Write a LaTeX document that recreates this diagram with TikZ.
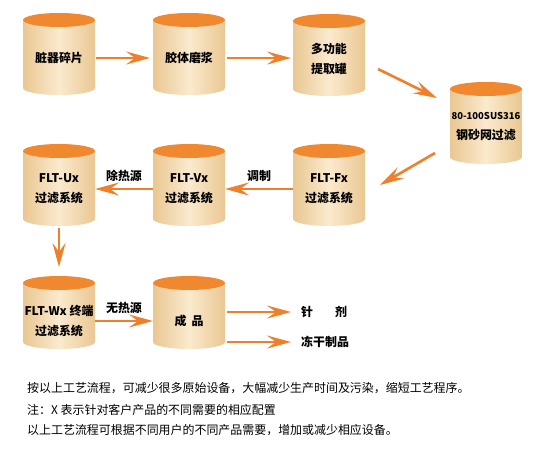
\documentclass[tikz,border=0pt]{standalone}
\usepackage{fontspec}
\setmainfont{Noto Sans CJK SC}
\usetikzlibrary{arrows.meta, calc, positioning}
\definecolor{tanktop}{RGB}{240,136,48}
\definecolor{tankedge}{RGB}{233,199,146}
\definecolor{tanklight}{RGB}{251,234,206}
\definecolor{flowc}{RGB}{238,128,44}

\tikzset{
  tank/.style={minimum width=72bp, minimum height=90bp, inner sep=0pt, outer sep=0pt, align=center,
    font=\bfseries\fontsize{12}{20}\selectfont,
    path picture={
      \shade[left color=tankedge, right color=tankedge, middle color=tanklight]
        ([yshift=-7bp]path picture bounding box.north west)
        -- ([yshift=-#1+7bp]path picture bounding box.north west)
        arc[start angle=180, end angle=360, x radius=36bp, y radius=7bp]
        -- ([yshift=-7bp]path picture bounding box.north east) -- cycle;
      \fill[tanktop] ([yshift=-7bp]path picture bounding box.north) ellipse[x radius=36bp, y radius=7bp];
    }},
  tank/.default=82bp,
  flow/.style={draw=flowc, line width=2.6bp, -{Stealth[length=24bp, width=13bp, inset=9bp]}},
  tag/.style={font=\bfseries\fontsize{12}{14}\selectfont, inner sep=1bp},
  note/.style={font=\fontsize{12}{14}\selectfont, anchor=west, inner sep=0pt}
}

\begin{document}
\begin{tikzpicture}[x=1bp, y=-1bp]
    \useasboundingbox (0,0) rectangle (540,450);

    % first row
    \node[tank] (mince) at (59,58) {脏器碎片};
    \node[tank] (mill) at (189,58) {胶体磨浆};
    \node[tank] (extract) at (329,59) {多功能\\提取罐};
    \node[tank] (mesh) at (486,127) {{\fontsize{9.5}{20}\selectfont 80-100SUS316}\\钢砂网过滤};

    % second row
    \node[tank] (fx) at (329,189) {FLT-Fx\\过滤系统};
    \node[tank] (vx) at (189,189) {FLT-Vx\\过滤系统};
    \node[tank] (ux) at (59,189) {FLT-Ux\\过滤系统};

    % third row
    \node[tank=73bp] (wx) at (59,321) {FLT-Wx 终端\\过滤系统};
    \node[tank=73bp] (done) at (189,321) {成\hspace{5bp}品};
    \node[tag, anchor=west] (inj) at (300,312) {针\hspace{22bp}剂};
    \node[tag, anchor=west] (lyo) at (300,342) {冻干制品};

    \draw[flow, shorten <=1bp, shorten >=3bp] (mince) -- (mill);
    \draw[flow, shorten <=2bp, shorten >=2bp] (mill.east) -- (mill.east -| extract.west);
    \draw[flow] ($(extract.east)+(13,10)$) -- ($(mesh.west)+(-13,-29)$);
    \draw[flow] ($(mesh.west)+(-15,26)$) -- ($(fx.east)+(15,-4)$);
    \draw[flow] (fx) -- node[tag, above=5bp] {调制} (vx);
    \draw[flow] (vx) -- node[tag, above=5bp] {除热源} (ux);
    \draw[flow] ([yshift=6bp]ux.south) -- ([yshift=9bp]wx.north);
    \draw[flow] (wx) -- node[tag, above=5bp] {无热源} (done);
    \draw[flow, shorten <=2bp, shorten >=9bp] (done.east |- inj.west) -- (inj.west);
    \draw[flow, shorten <=2bp, shorten >=9bp] (done.east |- lyo.west) -- (lyo.west);

    % notes
    \node[note] (line1) at (27,388) {按以上工艺流程，可减少很多原始设备，大幅减少生产时间及污染，缩短工艺程序。};
    \node[note] (line2) at (27,410) {注：X 表示针对客户产品的不同需要的相应配置};
    \node[note] (line3) at (27,430) {以上工艺流程可根据不同用户的不同产品需要，增加或减少相应设备。};
\end{tikzpicture}
\end{document}
